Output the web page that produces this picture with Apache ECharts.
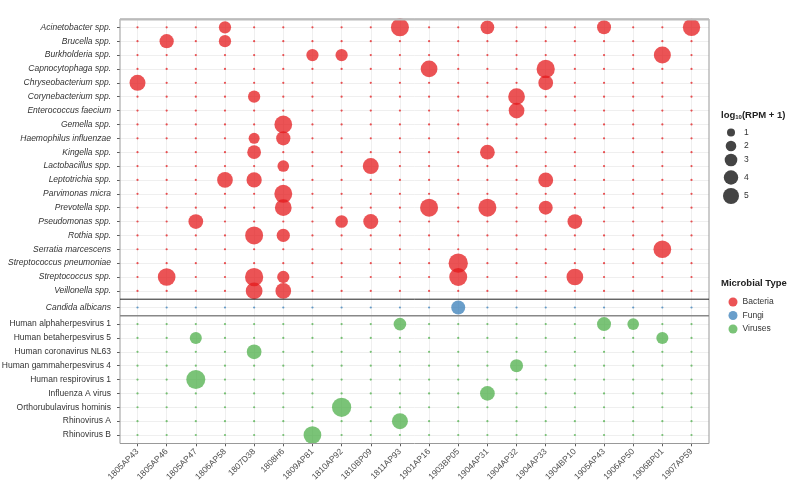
<!DOCTYPE html>
<html lang="en">
<head>
<meta charset="UTF-8">
<title>Microbial detections</title>
<script src="https://cdn.jsdelivr.net/npm/echarts@6/dist/echarts.min.js"></script>
<style>
    html, body { margin: 0; padding: 0; background: #fff; }
    #main { width: 799px; height: 492px; }
</style>
</head>
<body>
<div id="main"></div>
<script>
// samples on the x axis
var samples = ['1805AP43', '1805AP46', '1805AP47', '1806AP58', '1807D38', '1808H6', '1809AP81',
    '1810AP92', '1810BP09', '1811AP93', '1901AP16', '1903BP05', '1904AP31', '1904AP32',
    '1904AP33', '1904BP10', '1905AP43', '1906AP50', '1906BP01', '1907AP59'];

// organisms, one list per panel
var bacteria = ['Acinetobacter spp.', 'Brucella spp.', 'Burkholderia spp.', 'Capnocytophaga spp.',
    'Chryseobacterium spp.', 'Corynebacterium spp.', 'Enterococcus faecium', 'Gemella spp.',
    'Haemophilus influenzae', 'Kingella spp.', 'Lactobacillus spp.', 'Leptotrichia spp.',
    'Parvimonas micra', 'Prevotella spp.', 'Pseudomonas spp.', 'Rothia spp.', 'Serratia marcescens',
    'Streptococcus pneumoniae', 'Streptococcus spp.', 'Veillonella spp.'];
var fungi = ['Candida albicans'];
var viruses = ['Human alphaherpesvirus 1', 'Human betaherpesvirus 5', 'Human coronavirus NL63',
    'Human gammaherpesvirus 4', 'Human respirovirus 1', 'Influenza A virus',
    'Orthorubulavirus hominis', 'Rhinovirus A', 'Rhinovirus B'];

// [sample, organism, log10(RPM + 1)]
var bacteriaHits = [
    ['1806AP58', 'Acinetobacter spp.', 2.8], ['1811AP93', 'Acinetobacter spp.', 6.4],
    ['1904AP31', 'Acinetobacter spp.', 3.6], ['1905AP43', 'Acinetobacter spp.', 3.75],
    ['1907AP59', 'Acinetobacter spp.', 5.9],
    ['1805AP46', 'Brucella spp.', 3.9], ['1806AP58', 'Brucella spp.', 2.8],
    ['1809AP81', 'Burkholderia spp.', 2.8], ['1810AP92', 'Burkholderia spp.', 2.8],
    ['1906BP01', 'Burkholderia spp.', 5.7],
    ['1901AP16', 'Capnocytophaga spp.', 5.5], ['1904AP33', 'Capnocytophaga spp.', 6.6],
    ['1805AP43', 'Chryseobacterium spp.', 5.0], ['1904AP33', 'Chryseobacterium spp.', 4.2],
    ['1807D38', 'Corynebacterium spp.', 2.8], ['1904AP32', 'Corynebacterium spp.', 5.5],
    ['1904AP32', 'Enterococcus faecium', 4.8],
    ['1808H6', 'Gemella spp.', 6.2],
    ['1807D38', 'Haemophilus influenzae', 2.2], ['1808H6', 'Haemophilus influenzae', 3.9],
    ['1807D38', 'Kingella spp.', 3.6], ['1904AP31', 'Kingella spp.', 4.2],
    ['1808H6', 'Lactobacillus spp.', 2.5], ['1810BP09', 'Lactobacillus spp.', 5.0],
    ['1806AP58', 'Leptotrichia spp.', 4.8], ['1807D38', 'Leptotrichia spp.', 4.5],
    ['1904AP33', 'Leptotrichia spp.', 4.3],
    ['1808H6', 'Parvimonas micra', 6.4],
    ['1808H6', 'Prevotella spp.', 5.5], ['1901AP16', 'Prevotella spp.', 6.4],
    ['1904AP31', 'Prevotella spp.', 6.4], ['1904AP33', 'Prevotella spp.', 3.75],
    ['1805AP47', 'Pseudomonas spp.', 4.2], ['1810AP92', 'Pseudomonas spp.', 3.0],
    ['1810BP09', 'Pseudomonas spp.', 4.35], ['1904BP10', 'Pseudomonas spp.', 4.2],
    ['1807D38', 'Rothia spp.', 6.4], ['1808H6', 'Rothia spp.', 3.35],
    ['1906BP01', 'Serratia marcescens', 6.2],
    ['1903BP05', 'Streptococcus pneumoniae', 7.4],
    ['1805AP46', 'Streptococcus spp.', 6.2], ['1807D38', 'Streptococcus spp.', 6.6],
    ['1808H6', 'Streptococcus spp.', 2.8], ['1903BP05', 'Streptococcus spp.', 6.4],
    ['1904BP10', 'Streptococcus spp.', 5.5],
    ['1807D38', 'Veillonella spp.', 5.5], ['1808H6', 'Veillonella spp.', 4.8]
];
var fungiHits = [
    ['1903BP05', 'Candida albicans', 3.75]
];
var virusHits = [
    ['1811AP93', 'Human alphaherpesvirus 1', 3.0], ['1905AP43', 'Human alphaherpesvirus 1', 3.75],
    ['1906AP50', 'Human alphaherpesvirus 1', 2.5],
    ['1805AP47', 'Human betaherpesvirus 5', 2.7], ['1906BP01', 'Human betaherpesvirus 5', 2.7],
    ['1807D38', 'Human coronavirus NL63', 4.2],
    ['1904AP32', 'Human gammaherpesvirus 4', 3.2],
    ['1805AP47', 'Human respirovirus 1', 7.2],
    ['1904AP31', 'Influenza A virus', 4.2],
    ['1810AP92', 'Orthorubulavirus hominis', 7.4],
    ['1811AP93', 'Rhinovirus A', 5.0],
    ['1809AP81', 'Rhinovirus B', 6.2]
];
var sizeBreaks = [1, 2, 3, 4, 5];

var colors = {Bacteria: '#E41A1C', Fungi: '#377EB8', Viruses: '#4DAF4A'};
var font = 'Liberation Sans, Arial, Helvetica, sans-serif';

// area grows linearly with the value
function bubbleSize(v) {
    return Math.sqrt(16 + 48 * v);
}

var chart = echarts.init(document.getElementById('main'));

var panels = [
    {name: 'Bacteria', rows: bacteria, hits: bacteriaHits, italic: true, top: 19, height: 280.2},
    {name: 'Fungi', rows: fungi, hits: fungiHits, italic: true, top: 299.2, height: 16.6},
    {name: 'Viruses', rows: viruses, hits: virusHits, italic: false, top: 315.8, height: 127.5}
];

var grids = [], xAxes = [], yAxes = [], series = [];
var sampleIdx = samples.map(function (s, i) { return i; });

panels.forEach(function (p, k) {
    var last = k === panels.length - 1;
    var rowIdx = p.rows.map(function (r, i) { return i; });
    grids.push({left: 120, width: 589, top: p.top, height: p.height,
        containLabel: false, outerBoundsMode: 'none'});
    xAxes.push({
        type: 'value', gridIndex: k, position: 'bottom', min: -0.6, max: samples.length - 0.4,
        axisLine: {show: false, onZero: false},
        axisTick: {show: last, length: 3, customValues: sampleIdx, lineStyle: {color: '#333', width: 0.8}},
        axisLabel: {
            show: last, customValues: sampleIdx, rotate: 45, margin: 7,
            fontSize: 8.5, color: '#4d4d4d', fontFamily: font,
            formatter: function (v) { return samples[Math.round(v)]; }
        },
        splitLine: {show: true, lineStyle: {color: '#ebebeb', width: 0.8}}
    });
    yAxes.push({
        type: 'value', gridIndex: k, position: 'left', inverse: true, min: -0.6, max: p.rows.length - 0.4,
        axisLine: {show: false, onZero: false},
        axisTick: {show: true, length: 3, customValues: rowIdx, lineStyle: {color: '#333', width: 0.8}},
        axisLabel: {
            customValues: rowIdx, margin: 9, fontSize: 8.5, color: '#333', fontFamily: font,
            fontStyle: p.italic ? 'italic' : 'normal',
            formatter: function (v) { return p.rows[Math.round(v)]; }
        },
        splitLine: {show: true, lineStyle: {color: '#ebebeb', width: 0.8}}
    });

    // empty cells shown as tiny dots
    var filled = {};
    p.hits.forEach(function (h) { filled[h[0] + '|' + h[1]] = true; });
    var empties = [];
    samples.forEach(function (s, i) {
        p.rows.forEach(function (r, j) {
            if (!filled[s + '|' + r]) empties.push([i, j]);
        });
    });
    series.push({
        type: 'scatter', xAxisIndex: k, yAxisIndex: k, silent: true,
        symbolSize: 2.2, data: empties, clip: false,
        itemStyle: {color: colors[p.name], opacity: 0.75}
    });
    series.push({
        name: p.name, type: 'scatter', xAxisIndex: k, yAxisIndex: k, clip: false,
        data: p.hits.map(function (h) {
            return [samples.indexOf(h[0]), p.rows.indexOf(h[1]), h[2]];
        }),
        symbolSize: function (d) { return bubbleSize(d[2]); },
        itemStyle: {color: colors[p.name], opacity: 0.75}
    });
});

// size legend
var sizeKeyY = [132.5, 146, 160, 177.5, 196];
var graphics = [
    {type: 'rect', shape: {x: 120, y: 19, width: 589, height: 424.5}, z: 10,
        style: {fill: 'none', stroke: '#999', lineWidth: 1}},
    {type: 'line', shape: {x1: 120, y1: 19.5, x2: 709, y2: 19.5}, z: 10,
        style: {stroke: '#bbb', lineWidth: 2}},
    {type: 'line', shape: {x1: 120, y1: 299.2, x2: 709, y2: 299.2}, z: 10,
        style: {stroke: '#222', lineWidth: 1}},
    {type: 'line', shape: {x1: 120, y1: 315.8, x2: 709, y2: 315.8}, z: 10,
        style: {stroke: '#888', lineWidth: 1.5}},
    {type: 'text', left: 721, top: 110, z: 10,
        style: {
            text: '{b|log}{s|10}{b|(RPM + 1)}',
            rich: {
                b: {fontSize: 9.5, fontWeight: 'bold', fill: '#222', fontFamily: font},
                s: {fontSize: 6, fontWeight: 'bold', fill: '#222', fontFamily: font, padding: [5, 0, 0, 0]}
            }
        }},
    {type: 'text', left: 721, top: 278, z: 10,
        style: {text: 'Microbial Type', fontSize: 9.5, fontWeight: 'bold', fill: '#222', fontFamily: font}}
];
sizeBreaks.forEach(function (v, i) {
    graphics.push({type: 'circle', shape: {cx: 731, cy: sizeKeyY[i], r: bubbleSize(v) / 2},
        style: {fill: '#444'}});
    graphics.push({type: 'text', x: 744, y: sizeKeyY[i], z: 10,
        style: {text: String(v), fontSize: 8.5, fill: '#333', fontFamily: font, verticalAlign: 'middle'}});
});

chart.setOption({
    animation: false,
    backgroundColor: '#fff',
    grid: grids,
    xAxis: xAxes,
    yAxis: yAxes,
    legend: {
        data: ['Bacteria', 'Fungi', 'Viruses'],
        orient: 'vertical', left: 723.5, top: 292.5,
        itemWidth: 9, itemHeight: 9, itemGap: 4.5, icon: 'circle',
        itemStyle: {opacity: 0.75},
        textStyle: {fontSize: 8.5, color: '#333', fontFamily: font}
    },
    graphic: graphics,
    series: series
});
</script>
</body>
</html>
